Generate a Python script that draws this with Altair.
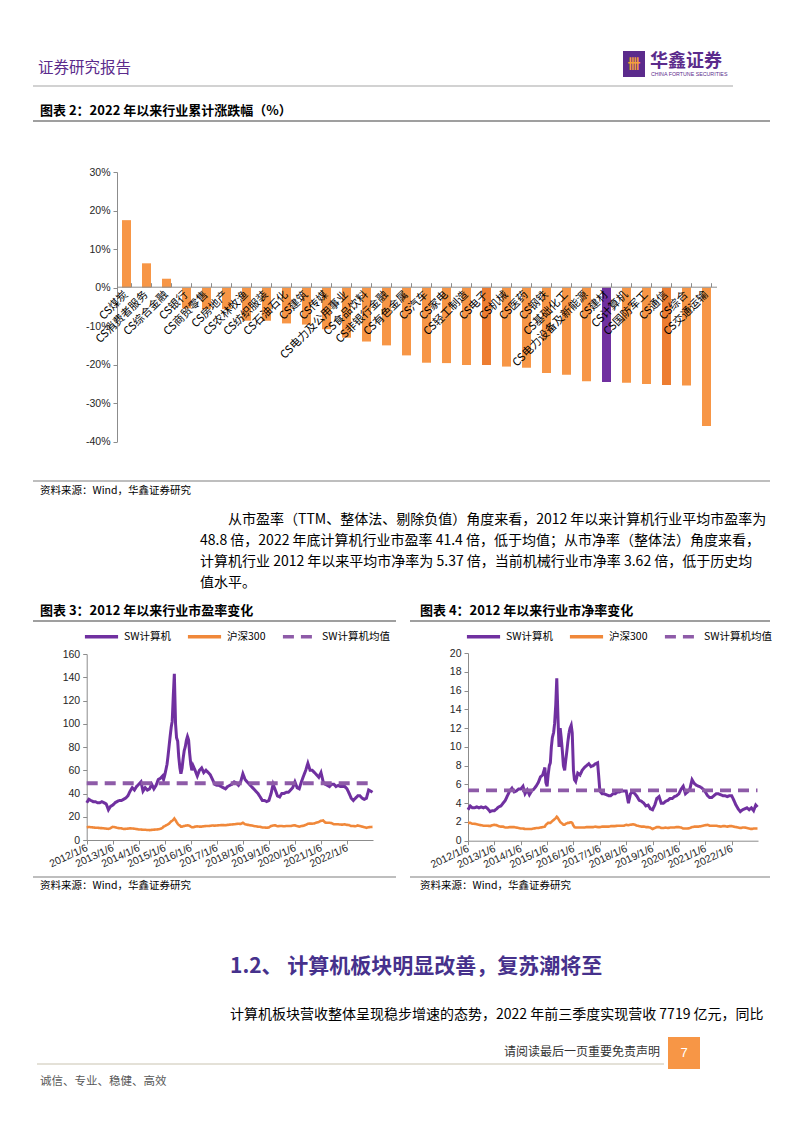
import altair as alt
import pandas as pd

W, H = 786, 1117
M = 8
CJK = "Noto Sans CJK SC"
LAT = "Liberation Sans"


def X(v):
    return v - M


def Y(v):
    return v - M


# ---------------- 图表2 data ----------------
industries = ["CS煤炭", "CS消费者服务", "CS综合金融", "CS银行", "CS商贸零售", "CS房地产",
              "CS农林牧渔", "CS纺织服装", "CS石油石化", "CS建筑", "CS传媒", "CS电力及公用事业",
              "CS食品饮料", "CS非银行金融", "CS有色金属", "CS汽车", "CS家电", "CS轻工制造",
              "CS电子", "CS机械", "CS医药", "CS钢铁", "CS基础化工", "CS电力设备及新能源",
              "CS建材", "CS计算机", "CS国防军工", "CS通信", "CS综合", "CS交通运输"]
returns = [17.5, 6.3, 2.3, -5.4, -5.6, -5.6, -8.6, -8.6, -9.3, -9.6, -10.8, -13.0,
           -14.0, -15.0, -17.6, -19.5, -19.6, -20.1, -20.1, -20.5, -20.8, -22.2, -22.6, -24.3,
           -24.5, -24.7, -25.0, -25.3, -25.4, -35.9]
highlight_ind = ["CS建材"]
dark_ind = ["CS电子", "CS通信"]
bar_ticks = [-40, -30, -20, -10, 0, 10, 20, 30]

# ---------------- 图表3/4 data ----------------
dates = []
for yy in (2012, 2013, 2014):
    for mm in range(1, 13):
        if yy == 2014 and mm == 12:
            break
        dates.append(f"{yy}-{mm:02d}-06")
for yy, mm in [(2014, 12)] + [(2015, k) for k in range(1, 13)] + [(2016, 1)]:
    dates.append(f"{yy}-{mm:02d}-06")
    dates.append(f"{yy}-{mm:02d}-20")
for yy in range(2016, 2023):
    for mm in range(1, 13):
        if yy == 2016 and mm == 1:
            continue
        dates.append(f"{yy}-{mm:02d}-06")
dates.append("2022-12-30")

pe_sw = [32, 35, 34, 33, 33, 32, 32, 33, 32, 31, 26, 29,
         30, 32, 33, 34, 34, 35, 36, 38, 42, 45, 43, 46,
         48, 50, 42, 45, 43, 44, 48, 44, 47, 52, 53,
         55, 52, 56, 60, 65, 72, 80, 88, 97, 102, 125, 143, 100, 88, 85, 72, 62, 57, 62, 70,
         77, 80, 86, 89, 86, 75, 65, 60,
         64, 60, 55, 60, 62, 58, 60, 58, 56, 52, 48,
         47, 47, 46, 45, 44, 46, 47, 48, 50, 49, 47, 50,
         57, 52, 50, 48, 46, 44, 42, 40, 37, 34, 34, 33,
         34, 40, 48, 43, 38, 37, 40, 40, 41, 41, 43, 45,
         50, 45, 44, 50, 55, 60, 66, 60, 60, 58, 56, 54,
         58, 50, 48, 47, 46, 48, 48, 46, 47, 46, 46, 46,
         44, 40, 36, 34, 36, 38, 38, 36, 35, 36, 43, 42,
         41]
pe_hs = [11.0, 11.2, 11.0, 10.8, 10.6, 10.5, 10.3, 10.2, 10.0, 9.8, 9.5, 10.2,
         11.3, 11.0, 10.5, 10.2, 10.0, 9.5, 9.6, 9.8, 10.0, 9.9, 9.7, 9.4,
         9.0, 9.0, 8.8, 8.8, 8.6, 8.5, 8.7, 8.9, 9.0, 9.2, 9.6,
         10.5, 11.5, 12.0, 12.5, 13.0, 13.5, 14.0, 15.0, 16.0, 16.5, 17.5, 18.5, 17.0, 15.5,
         14.0, 13.0, 12.5, 11.5, 11.5, 11.8, 12.0, 12.3, 12.5, 12.6, 12.5, 12.2, 11.5, 11.0,
         11.0, 11.5, 11.8, 11.5, 11.5, 11.8, 12.0, 12.0, 12.2, 12.5, 12.3,
         12.5, 12.7, 12.8, 12.8, 12.7, 13.0, 13.2, 13.4, 13.5, 13.8, 14.0, 13.8,
         14.8, 13.5, 13.2, 12.8, 12.5, 12.0, 11.8, 11.5, 11.3, 10.8, 10.8, 10.5,
         10.8, 12.0, 12.5, 12.6, 11.8, 12.0, 12.0, 11.8, 12.0, 12.0, 12.0, 12.5,
         12.6, 12.0, 11.5, 12.0, 12.3, 13.0, 14.0, 14.2, 14.0, 14.3, 15.0, 15.5,
         16.5, 16.8, 15.0, 14.8, 14.8, 14.5, 13.5, 13.5, 13.5, 13.3, 13.2, 13.5,
         13.0, 12.8, 12.0, 12.0, 11.8, 12.5, 12.0, 11.5, 11.0, 10.5, 11.0, 11.2,
         11.3]
pb_sw = [3.3, 3.7, 3.5, 3.5, 3.6, 3.5, 3.6, 3.5, 3.6, 3.4, 3.1, 3.2,
         3.2, 3.4, 3.6, 3.7, 4.0, 4.3, 4.8, 5.3, 5.6, 5.2, 5.3, 5.5,
         5.5, 5.8, 5.0, 5.4, 4.9, 5.3, 5.5, 5.8, 6.2, 6.8, 7.0,
         7.8, 6.2, 5.8, 7.0, 8.0, 8.3, 10.0, 11.0, 11.5, 12.5, 14.5, 17.3, 13.0, 10.0,
         12.0, 11.0, 9.5, 8.0, 7.5, 8.5, 9.5, 10.5, 11.5, 12.0, 12.3, 11.5, 7.5, 6.5,
         6.3, 7.2, 7.0, 7.5, 7.8, 8.0, 8.2, 7.9, 8.0, 8.2, 8.3,
         5.3, 5.0, 5.0, 4.9, 4.8, 4.8, 5.0, 5.0, 5.2, 5.2, 5.3, 5.3,
         5.3, 4.0, 5.0, 5.2, 5.0, 4.7, 4.3, 4.2, 4.0, 3.7, 3.8, 3.4,
         3.3, 3.8, 4.5, 4.7, 4.0, 4.0, 4.2, 4.3, 4.5, 4.5, 4.7, 4.8,
         5.0, 5.5, 5.8, 5.0, 5.2, 5.5, 6.5, 6.1, 5.9, 5.8, 5.7, 5.5,
         5.2, 4.8, 4.6, 4.6, 4.8, 5.0, 5.0, 4.9, 4.8, 4.8, 4.7, 4.8,
         4.8, 4.3, 3.8, 3.4, 3.1, 3.3, 3.4, 3.5, 3.3, 3.5, 3.2, 3.8,
         3.6]
pb_hs = [1.9, 1.9, 1.8, 1.8, 1.75, 1.7, 1.65, 1.6, 1.6, 1.6, 1.55, 1.65,
         1.7, 1.65, 1.55, 1.5, 1.5, 1.4, 1.4, 1.45, 1.45, 1.45, 1.4, 1.35,
         1.3, 1.3, 1.25, 1.25, 1.25, 1.25, 1.3, 1.35, 1.35, 1.4, 1.45,
         1.5, 1.7, 1.8, 1.9, 1.9, 1.9, 2.0, 2.1, 2.2, 2.3, 2.4, 2.55, 2.4, 2.2,
         2.0, 1.9, 1.8, 1.7, 1.7, 1.8, 1.85, 1.9, 1.9, 1.95, 1.95, 1.9, 1.6, 1.45,
         1.4, 1.4, 1.4, 1.4, 1.4, 1.45, 1.45, 1.45, 1.45, 1.5, 1.45,
         1.45, 1.5, 1.5, 1.5, 1.5, 1.55, 1.55, 1.55, 1.6, 1.6, 1.6, 1.6,
         1.7, 1.65, 1.7, 1.75, 1.7, 1.6, 1.55, 1.5, 1.5, 1.45, 1.45, 1.4,
         1.25, 1.35, 1.45, 1.45, 1.35, 1.35, 1.4, 1.35, 1.4, 1.4, 1.4, 1.45,
         1.45, 1.4, 1.3, 1.3, 1.3, 1.35, 1.45, 1.5, 1.5, 1.5, 1.55, 1.6,
         1.65, 1.7, 1.6, 1.6, 1.6, 1.6, 1.55, 1.5, 1.55, 1.55, 1.5, 1.55,
         1.55, 1.5, 1.45, 1.4, 1.35, 1.4, 1.4, 1.35, 1.3, 1.25, 1.3, 1.3,
         1.3]
pe_mean = 48.8
pb_mean = 5.37
SERIES = ["SW计算机", "沪深300", "SW计算机均值"]
year_ticks = list(range(2012, 2023))

# ---------------- page texts ----------------
para1 = ["从市盈率（TTM、整体法、剔除负值）角度来看，2012 年以来计算机行业平均市盈率为",
         "48.8 倍，2022 年底计算机行业市盈率 41.4 倍，低于均值；从市净率（整体法）角度来看，",
         "计算机行业 2012 年以来平均市净率为 5.37 倍，当前机械行业市净率 3.62 倍，低于历史均",
         "值水平。"]
para2 = "计算机板块营收整体呈现稳步增速的态势，2022 年前三季度实现营收 7719 亿元，同比"

AXC = "#8C8C8C"
LBC = "#262626"


def txt(s, x, y, size, color="#000000", weight="normal", font=CJK, align="left"):
    return alt.Chart(alt.Data(values=[{"t": s}])).mark_text(
        align=align, baseline="middle", font=font, fontSize=size,
        fontWeight=weight, color=color
    ).encode(x=alt.value(X(x)), y=alt.value(Y(y)), text="t:N")


def hline(x1, x2, y, color, width):
    return alt.Chart(alt.Data(values=[{"k": 0}])).mark_rule(
        color=color, strokeWidth=width
    ).encode(x=alt.value(X(x1)), x2=alt.value(X(x2)), y=alt.value(Y(y)))


def box(x1, x2, y1, y2, color):
    return alt.Chart(alt.Data(values=[{"k": 0}])).mark_rect(color=color).encode(
        x=alt.value(X(x1)), x2=alt.value(X(x2)), y=alt.value(Y(y1)), y2=alt.value(Y(y2)))


# ---------------- bar chart ----------------
kinds = ["hl" if n in highlight_ind else ("dark" if n in dark_ind else "base") for n in industries]
bar_df = pd.DataFrame({"ind": industries, "ret": returns, "kind": kinds})
xscale = alt.Scale(domain=industries, range=[X(116.5), X(716.5)], paddingInner=0.55, paddingOuter=0.275)
zero_y = Y(286.7)
bars = alt.Chart(bar_df).mark_bar().encode(
    x=alt.X("ind:N", scale=xscale, axis=alt.Axis(
        orient="bottom", offset=zero_y - H, title=None, labelAngle=-45, labelAlign="right",
        labelBaseline="middle", labelPadding=6, labelFont=CJK, labelFontSize=11,
        labelColor="#000000", ticks=False, tickSize=0, domainColor=AXC, domainWidth=1,
        labelOverlap=False, labelLimit=300, zindex=1)),
    y=alt.Y("ret:Q", scale=alt.Scale(domain=[-40, 30], range=[Y(441.7), Y(172)], nice=False, zero=False),
            axis=alt.Axis(orient="left", offset=-X(117), values=bar_ticks, labelExpr="datum.value + '%'",
                          title=None, grid=False, tickSize=4, tickColor=AXC, domainColor=AXC,
                          labelFont=LAT, labelFontSize=10.5, labelColor=LBC, labelPadding=3)),
    color=alt.Color("kind:N", scale=alt.Scale(domain=["base", "dark", "hl"],
                                              range=["#F79646", "#ED7D31", "#7030A0"]), legend=None),
)
bar_tickaxis = alt.Chart(bar_df).mark_bar(opacity=0).encode(
    x=alt.X("ind:N", scale=xscale, axis=alt.Axis(
        orient="top", offset=-zero_y, labels=False, domain=False, ticks=True, tickBand="extent",
        tickSize=4, tickColor=AXC, title=None)),
)
bar_layer = alt.layer(bars, bar_tickaxis).resolve_axis(x="independent")


# ---------------- line charts ----------------
def dt(y):
    return alt.DateTime(year=y, month=1, date=6, utc=True)


def line_panel(sw, hs, mean_val, x0, x1, y0, y1, ymax, ystep, leg_x, leg_y):
    rows = [{"d": d, "v": v, "s": SERIES[0]} for d, v in zip(dates, sw)]
    rows += [{"d": d, "v": v, "s": SERIES[1]} for d, v in zip(dates, hs)]
    rows += [{"d": dates[0], "v": mean_val, "s": SERIES[2]},
             {"d": dates[-1], "v": mean_val, "s": SERIES[2]}]
    df = pd.DataFrame(rows)
    leg = alt.Legend(orient="none", legendX=X(leg_x), legendY=Y(leg_y), direction="horizontal",
                     title=None, symbolType="stroke", symbolSize=1100, symbolStrokeWidth=3.5,
                     labelFont=CJK, labelFontSize=10.5, labelColor="#000000", labelOffset=4,
                     columnPadding=9, padding=0)
    base = alt.Chart(df).encode(
        x=alt.X("d:T", scale=alt.Scale(type="utc", domain=[dt(2012), dt(2023)], range=[X(x0), X(x1)]),
                axis=alt.Axis(orient="bottom", offset=Y(y0) - H, title=None, grid=False,
                              values=[dt(y) for y in year_ticks],
                              labelExpr="utcFormat(datum.value, '%Y/%-m/%-d')",
                              labelAngle=-25, labelAlign="right", labelBaseline="middle",
                              labelPadding=3, labelFont=LAT, labelFontSize=10.5, labelColor=LBC,
                              tickSize=4, tickColor=AXC, domainColor=AXC, labelOverlap=False)),
        y=alt.Y("v:Q", scale=alt.Scale(domain=[0, ymax], range=[Y(y0), Y(y1)], nice=False),
                axis=alt.Axis(orient="left", offset=-X(x0), title=None, grid=False,
                              values=list(range(0, ymax + 1, ystep)), tickSize=4, tickColor=AXC,
                              domainColor=AXC, labelFont=LAT, labelFontSize=10.5, labelColor=LBC,
                              labelPadding=3)),
        color=alt.Color("s:N", scale=alt.Scale(domain=SERIES, range=["#7030A0", "#F0883A", "#8E5BA8"]),
                        legend=leg),
        strokeDash=alt.StrokeDash("s:N", scale=alt.Scale(domain=SERIES, range=[[1, 0], [1, 0], [11, 7]]),
                                  legend=leg),
    )
    widths = [3, 2.6, 3.8]
    order = [1, 0, 2]
    layers = [base.transform_filter(alt.datum.s == SERIES[i]).mark_line(strokeWidth=widths[i])
              for i in order]
    return alt.layer(*layers)


pe_layer = line_panel(pe_sw, pe_hs, pe_mean, 86.7, 373, 840, 654, 160, 20, 83, 618)
pb_layer = line_panel(pb_sw, pb_hs, pb_mean, 468, 758, 840.7, 653, 20, 2, 465, 618)

HP = "#5B2B8C"
deco = [
    txt("证券研究报告", 38, 68, 15.5, HP),
    box(623, 645, 51, 77, HP),
    txt("卌", 634, 64, 13, "#F5A03A", "bold", align="center"),
    txt("华鑫证券", 650, 62, 18, HP, "bold"),
    txt("CHINA FORTUNE SECURITIES", 651, 73.5, 5.3, HP, font=LAT),
    hline(33, 733, 86, "#A6A6A6", 1.2),
    txt("图表 2：2022 年以来行业累计涨跌幅（%）", 40, 111, 13, "#000000", "bold"),
    hline(33, 770, 121, "#7F7F7F", 1.5),
    hline(33, 770, 481, "#7F7F7F", 1.2),
    txt("资料来源：Wind，华鑫证券研究", 40, 491, 10.5),
    txt(para1[0], 228, 520, 14),
    txt(para1[1], 200, 541, 14),
    txt(para1[2], 200, 562, 14),
    txt(para1[3], 200, 583, 14),
    txt("图表 3：2012 年以来行业市盈率变化", 40, 611, 13, "#000000", "bold"),
    txt("图表 4：2012 年以来行业市净率变化", 420, 611, 13, "#000000", "bold"),
    hline(33, 396, 621, "#7F7F7F", 1.5),
    hline(410, 770, 621, "#7F7F7F", 1.5),
    hline(33, 396, 877, "#7F7F7F", 1.2),
    hline(410, 770, 877, "#7F7F7F", 1.2),
    txt("资料来源：Wind，华鑫证券研究", 40, 886, 10.5),
    txt("资料来源：Wind，华鑫证券研究", 420, 886, 10.5),
    txt("1.2、 计算机板块明显改善，复苏潮将至", 230, 967, 21, "#46318C", "bold"),
    txt(para2, 230, 1015, 14),
    txt("请阅读最后一页重要免责声明", 660, 1052, 12, "#333333", align="right"),
    box(668, 700, 1037, 1069, "#F79646"),
    txt("7", 684, 1053, 13, "#FFFFFF", font=LAT, align="center"),
    hline(37, 664, 1064, "#C9C3B0", 1),
    txt("诚信、专业、稳健、高效", 40, 1082, 11.5, "#595959"),
]

chart = alt.layer(bar_layer, pe_layer, pb_layer, *deco).resolve_scale(
    x="independent", y="independent", color="independent", strokeDash="independent"
).resolve_axis(
    x="independent", y="independent"
).resolve_legend(
    color="independent", strokeDash="independent"
).properties(
    width=W, height=H, padding=0, autosize=alt.AutoSizeParams(type="none"), background="white"
).configure_view(stroke=None)

chart.save("out.html", embed_options={"renderer": "svg", "actions": False})
